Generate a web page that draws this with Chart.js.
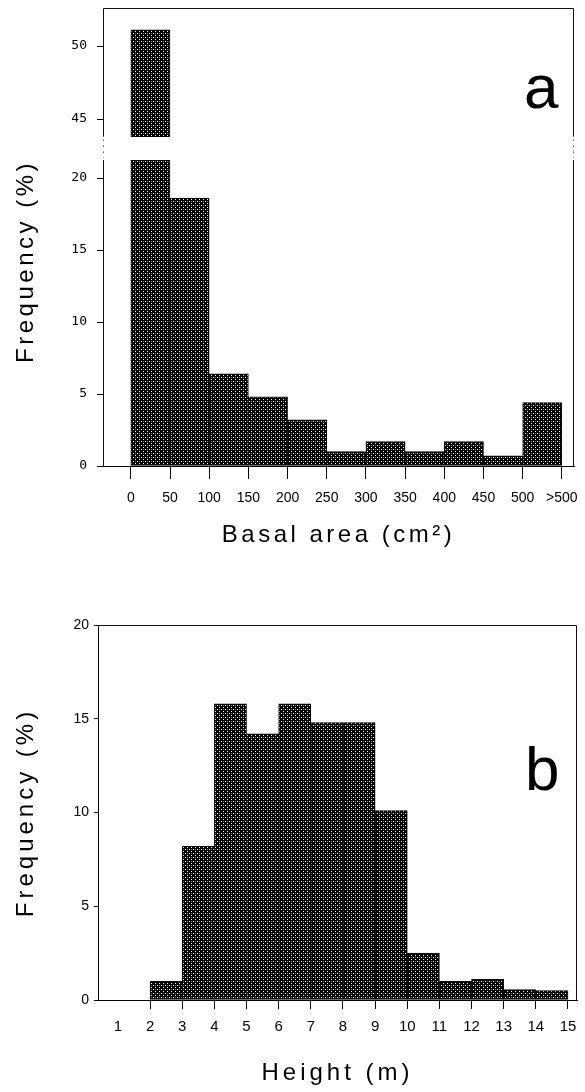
<!DOCTYPE html>
<html>
<head>
<meta charset="utf-8">
<title>Frequency distributions</title>
<script src="https://cdn.jsdelivr.net/npm/chart.js@4.4.1/dist/chart.umd.min.js"></script>
<style>
    body { margin: 0; background: #fff; }
    canvas { display: block; }
</style>
</head>
<body>
<canvas id="grafikBasal" width="585" height="560"></canvas>
<canvas id="grafikHeight" width="585" height="532"></canvas>
<script>
// (a) basal area classes (cm2), tick labels sit on the class edges
let basalTicks = ['0', '50', '100', '150', '200', '250', '300', '350', '400', '450', '500', '>500'];
let basalFreq = [51.1, 18.6, 6.4, 4.8, 3.2, 1.0, 1.7, 1.0, 1.7, 0.7, 4.4];
let basalLowTicks = [0, 5, 10, 15, 20];
let basalHighTicks = [45, 50];
let basalBreak = 43.8;          // where the first bar is cut
let basalLowMax = 21.25;
let basalHighMin = 42.2;
let basalHighMax = 52.6;

// (b) height classes (m)
let heightTicks = [1, 2, 3, 4, 5, 6, 7, 8, 9, 10, 11, 12, 13, 14, 15];
let heightClassStart = [2, 3, 4, 5, 6, 7, 8, 9, 10, 11, 12, 13, 14];
let heightFreq = [1.0, 8.2, 15.8, 14.2, 15.8, 14.8, 14.8, 10.1, 2.5, 1.0, 1.1, 0.55, 0.5];
let heightYTicks = [0, 5, 10, 15, 20];

Chart.defaults.font.family = '"Liberation Sans", Arial, sans-serif';
Chart.defaults.color = '#000';

// dark stipple like the printed bars
function stipple() {
    let c = document.createElement('canvas');
    c.width = 4;
    c.height = 4;
    let g = c.getContext('2d');
    g.fillStyle = '#000';
    g.fillRect(0, 0, 4, 4);
    g.fillStyle = '#fff';
    g.fillRect(1, 1, 1, 1);
    g.fillRect(3, 3, 1, 1);
    g.fillStyle = '#666';
    g.fillRect(3, 1, 1, 1);
    return g.createPattern(c, 'repeat');
}
let pattern = stipple();

// box round the plot, dotted across the axis break
const frame = {
    id: 'frame',
    afterDraw(chart, args, opts) {
        let ctx = chart.ctx;
        let a = chart.chartArea;
        let l = Math.round(a.left) + 0.5;
        let r = Math.round(a.right) - 0.5;
        let t = Math.round(a.top) + 0.5;
        let b = a.bottom;
        ctx.save();
        ctx.strokeStyle = '#111';
        ctx.lineWidth = 1;
        function line(x1, y1, x2, y2, dash) {
            ctx.setLineDash(dash || []);
            ctx.beginPath();
            ctx.moveTo(x1, y1);
            ctx.lineTo(x2, y2);
            ctx.stroke();
        }
        line(l, t, r, t);
        let sides = opts.left ? [l, r] : [r];
        sides.forEach(function (x) {
            if (opts.breakValue !== undefined) {
                let g1 = chart.scales.yTop.getPixelForValue(opts.breakValue);
                let g2 = chart.scales.y.top;
                line(x, t, x, g1);
                line(x, g1 + 3, x, g2 - 2, [1, 5]);
                line(x, g2, x, b);
            } else {
                line(x, t, x, b);
            }
        });
        ctx.restore();
    }
};

const panelLetter = {
    id: 'panelLetter',
    afterDraw(chart, args, opts) {
        let ctx = chart.ctx;
        ctx.save();
        ctx.font = '62px "Liberation Sans", Arial, sans-serif';
        ctx.fillStyle = '#000';
        ctx.textBaseline = 'alphabetic';
        ctx.fillText(opts.text, opts.x, opts.y);
        ctx.restore();
    }
};

// the axis titles are printed letter-spaced
const spacedTitles = {
    id: 'spacedTitles',
    beforeDraw(chart, args, opts) {
        Object.values(chart.scales).forEach(function (s) {
            if (s.$spaced) return;
            let orig = s.drawTitle;
            s.drawTitle = function () {
                chart.ctx.letterSpacing = opts.spacing;
                orig.call(s);
                chart.ctx.letterSpacing = '0px';
            };
            s.$spaced = true;
        });
    }
};

// fixed axis boxes so the plot area lands where the print has it
function fixWidth(w) {
    return function (s) {
        s.width = w;
        s.paddingTop = 0;
        s.paddingBottom = 0;
    };
}
function fixHeight(h) {
    return function (s) {
        s.height = h;
        s.paddingLeft = 0;
        s.paddingRight = 0;
    };
}

let barStyle = {
    backgroundColor: pattern,
    borderColor: '#000',
    borderWidth: 1,
    borderSkipped: false,
    barPercentage: 1,
    categoryPercentage: 1,
    grouped: false
};

let titleFont = { size: 24 };
let monoFont = { family: '"DejaVu Sans Mono", monospace', size: 13 };

new Chart(document.getElementById('grafikBasal'), {
    type: 'bar',
    data: {
        datasets: [
            Object.assign({
                data: basalFreq.map(function (v, i) {
                    return { x: i + 0.5, y: Math.min(v, basalLowMax) };
                }),
                yAxisID: 'y'
            }, barStyle),
            Object.assign({
                data: basalFreq.map(function (v, i) {
                    return { x: i + 0.5, y: [basalBreak, v] };
                }).filter(function (d) { return d.y[1] > basalBreak; }),
                yAxisID: 'yTop'
            }, barStyle)
        ]
    },
    options: {
        responsive: false,
        animation: false,
        layout: { padding: { top: 8, right: 11, left: 0, bottom: 0 } },
        plugins: {
            legend: { display: false },
            tooltip: { enabled: false },
            frame: { left: true, breakValue: basalBreak },
            panelLetter: { text: 'a', x: 524, y: 108 },
            spacedTitles: { spacing: '3.5px' }
        },
        scales: {
            x: {
                type: 'linear',
                offset: false,
                min: -0.71,
                max: 11.31,
                afterBuildTicks: function (s) {
                    s.ticks = basalTicks.map(function (t, i) { return { value: i }; });
                },
                afterFit: fixHeight(94),
                grid: { offset: false, drawOnChartArea: false, tickLength: 13, color: '#000' },
                border: { color: '#000' },
                ticks: {
                    autoSkip: false,
                    maxRotation: 0,
                    padding: 11,
                    font: { size: 14 },
                    callback: function (value) { return basalTicks[value]; }
                },
                title: {
                    display: true,
                    text: 'Basal area (cm²)',
                    font: titleFont,
                    padding: { top: 0, bottom: 10 }
                }
            },
            y: {
                position: 'left',
                stack: 'broken',
                stackWeight: 306,
                weight: 1,
                min: 0,
                max: basalLowMax,
                afterBuildTicks: function (s) {
                    s.ticks = basalLowTicks.map(function (v) { return { value: v }; });
                },
                afterFit: fixWidth(103),
                grid: { drawOnChartArea: false, tickLength: 6, color: '#000' },
                border: { display: false },
                ticks: { padding: 10, font: monoFont },
                title: {
                    display: true,
                    text: 'Frequency (%)',
                    align: 'end',
                    font: titleFont,
                    padding: { top: 12, bottom: 0 }
                }
            },
            yTop: {
                position: 'left',
                stack: 'broken',
                stackWeight: 152,
                weight: 2,
                min: basalHighMin,
                max: basalHighMax,
                afterBuildTicks: function (s) {
                    s.ticks = basalHighTicks.map(function (v) { return { value: v }; });
                },
                afterFit: fixWidth(103),
                grid: { drawOnChartArea: false, tickLength: 6, color: '#000' },
                border: { display: false },
                ticks: { padding: 10, font: monoFont }
            }
        }
    },
    plugins: [frame, panelLetter, spacedTitles]
});

new Chart(document.getElementById('grafikHeight'), {
    type: 'bar',
    data: {
        datasets: [
            Object.assign({
                data: heightFreq.map(function (v, i) {
                    return { x: heightClassStart[i] + 0.5, y: v };
                })
            }, barStyle)
        ]
    },
    options: {
        responsive: false,
        animation: false,
        layout: { padding: { top: 65, right: 8, left: 0, bottom: 0 } },
        plugins: {
            legend: { display: false },
            tooltip: { enabled: false },
            frame: { left: false },
            panelLetter: { text: 'b', x: 525, y: 230 },
            spacedTitles: { spacing: '4px' }
        },
        scales: {
            x: {
                type: 'linear',
                offset: false,
                min: 0.38,
                max: 15.28,
                afterBuildTicks: function (s) {
                    s.ticks = heightTicks.map(function (v) { return { value: v }; });
                },
                afterFit: fixHeight(92),
                grid: {
                    offset: false,
                    drawOnChartArea: false,
                    tickLength: 9,
                    color: '#000',
                    tickColor: function (c) {
                        return c.tick && c.tick.value === heightTicks[0] ? 'rgba(0,0,0,0)' : '#000';
                    }
                },
                border: { color: '#000' },
                ticks: { autoSkip: false, maxRotation: 0, padding: 9, font: { size: 15 } },
                title: {
                    display: true,
                    text: 'Height (m)',
                    font: titleFont,
                    padding: { top: 0, bottom: 4 }
                }
            },
            y: {
                min: 0,
                max: 20,
                afterBuildTicks: function (s) {
                    s.ticks = heightYTicks.map(function (v) { return { value: v }; });
                },
                afterFit: fixWidth(98),
                grid: { drawOnChartArea: false, tickLength: 4, color: '#000' },
                border: { color: '#000' },
                ticks: { padding: 5, font: { size: 14 } },
                title: {
                    display: true,
                    text: 'Frequency (%)',
                    font: titleFont,
                    padding: { top: 12, bottom: 0 }
                }
            }
        }
    },
    plugins: [frame, panelLetter, spacedTitles]
});
</script>
</body>
</html>
